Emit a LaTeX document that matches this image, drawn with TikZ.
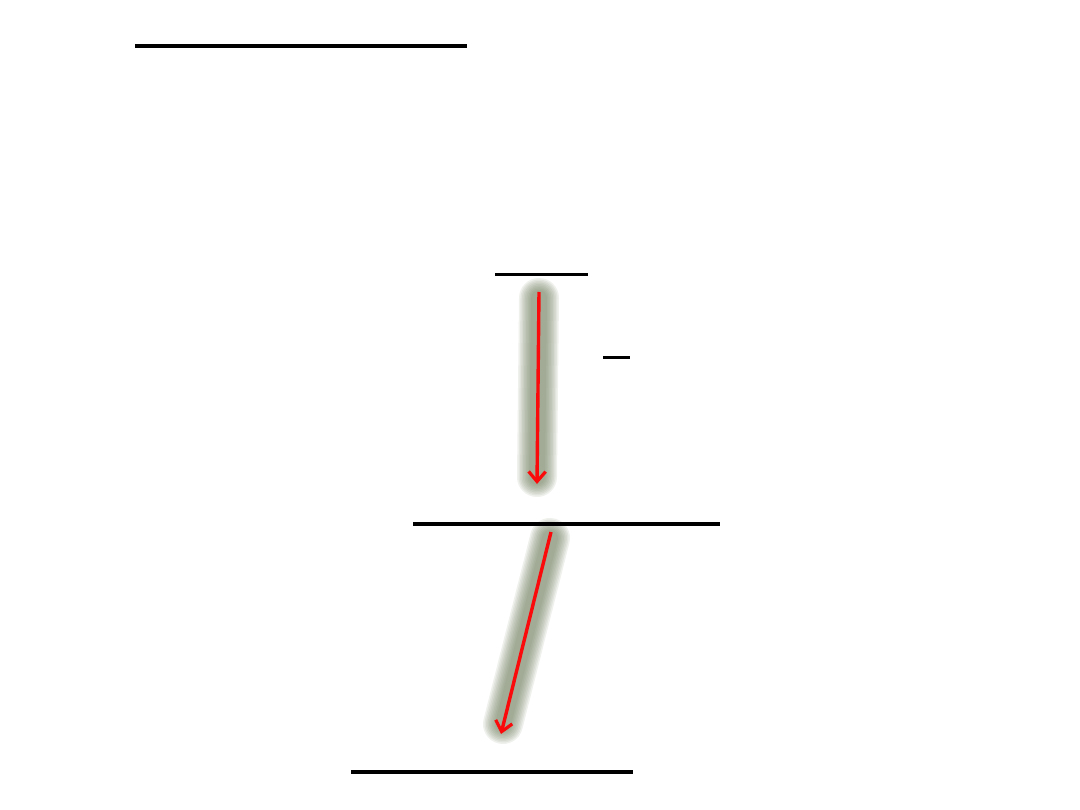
\documentclass[tikz,border=0pt]{standalone}
\usetikzlibrary{arrows.meta}
\definecolor{glowc}{RGB}{118,130,100}
\definecolor{arrred}{RGB}{250,10,10}
\tikzset{
  rule/.style={line width=4pt, black},
  thinrule/.style={line width=3pt, black},
  glowlayer/.style={glowc, line cap=round, opacity=0.11},
  redarrow/.style={arrred, line width=3.4pt, -{Straight Barb[length=10pt,width=17pt,line width=3.2pt]}},
}
\newcommand{\glowline}[2]{%
  \foreach \w in {40,37,34,31,28,25,22,19,16}{\draw[glowlayer, line width=\w pt] (#1) -- (#2);}}
\begin{document}
\begin{tikzpicture}[x=1pt,y=-1pt]
\useasboundingbox (0,0) rectangle (1080,810);
\fill[white] (0,0) rectangle (1080,810);
% rules
\coordinate (r1a) at (135,46); \coordinate (r1b) at (467,46);
\coordinate (r2a) at (495,275); \coordinate (r2b) at (588,275);
\coordinate (r3a) at (603,358); \coordinate (r3b) at (630,358);
\coordinate (r4a) at (413,524); \coordinate (r4b) at (720,524);
\coordinate (r5a) at (351,772); \coordinate (r5b) at (633,772);
\draw[rule] (r1a) -- (r1b);
\draw[thinrule] (r2a) -- (r2b);
\draw[thinrule] (r3a) -- (r3b);
% arrow 1
\coordinate (g1a) at (539,298); \coordinate (g1b) at (537,477);
\coordinate (a1s) at (539,292); \coordinate (a1e) at (537,484);
\glowline{g1a}{g1b}
\draw[redarrow] (a1s) -- (a1e);
% arrow 2
\coordinate (g2a) at (550,538); \coordinate (g2b) at (503,724);
\coordinate (a2s) at (551,532); \coordinate (a2e) at (501,734);
\glowline{g2a}{g2b}
\draw[rule] (r4a) -- (r4b);
\draw[rule] (r5a) -- (r5b);
\draw[redarrow] (a2s) -- (a2e);
\end{tikzpicture}
\end{document}
